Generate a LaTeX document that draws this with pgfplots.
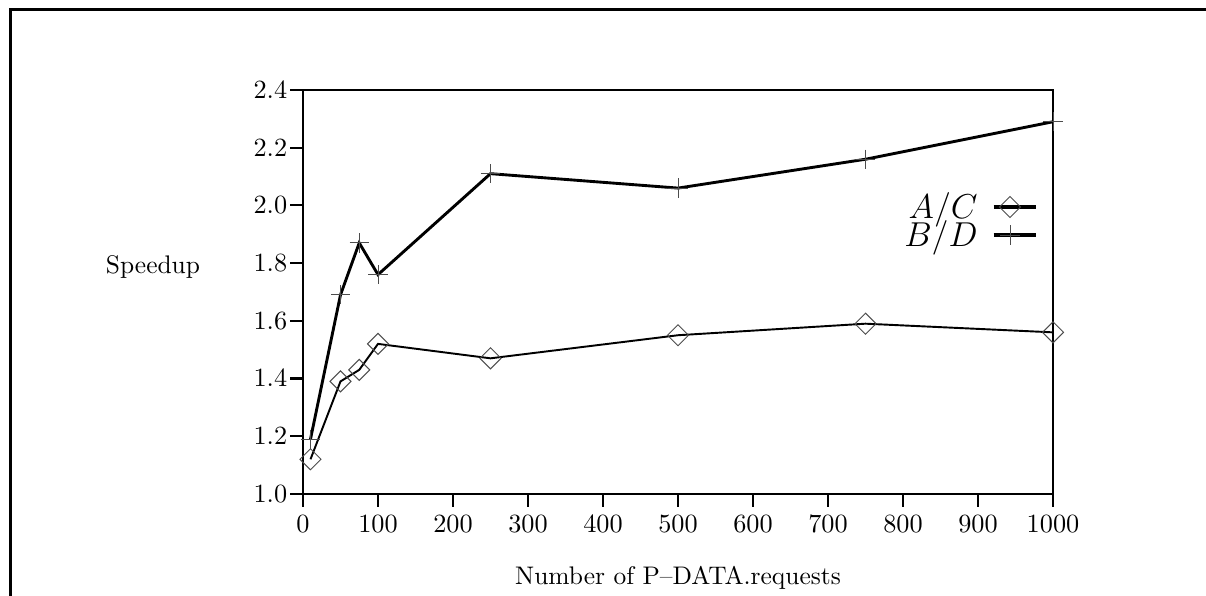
\documentclass[border=0pt]{standalone}
\usepackage{pgfplots}
\pgfplotsset{compat=1.18}
\begin{document}
\begin{tikzpicture}
\path[use as bounding box] (-126.25pt,-42.5pt) rectangle (376.25pt,205.8pt);
\draw[line width=1.25pt] (-121.7pt,-43pt) -- (-121.7pt,201.7pt) -- (377pt,201.7pt);
\begin{axis}[
  at={(0,0)}, anchor=south west,
  scale only axis, width=312.5pt, height=168.3pt,
  xmin=0, xmax=1000, ymin=1, ymax=2.4,
  xtick={0,100,...,1000}, ytick={1.0,1.2,...,2.4},
  tick label style={font=\fontsize{10.6}{12}\selectfont},
  label style={font=\fontsize{10.6}{12}\selectfont},
  xticklabel style={/pgf/number format/1000 sep={}},
  yticklabel style={/pgf/number format/fixed, /pgf/number format/fixed zerofill, /pgf/number format/precision=1, inner xsep=1pt},
  xtick pos=bottom, ytick pos=left, tick align=outside,
  major tick length=5.4pt,
  axis line style={line width=0.9pt}, tick style={line width=0.9pt, black},
  clip=false,
  xlabel={Number of P--DATA.requests},
  xlabel style={at={(axis description cs:0.5,-0.208)}, anchor=center},
  ylabel={Speedup},
  ylabel style={rotate=-90, at={(axis description cs:-0.2,0.562)}, anchor=center},
  legend plot pos=right,
  legend cell align=right,
  legend style={at={(axis description cs:0.98,0.76)}, anchor=north east, draw=none, fill=none, inner sep=0pt, row sep=-4.6pt, column sep=4pt, font=\fontsize{13.5}{13.5}\selectfont},
  legend image code/.code={\draw[mark repeat=2, mark phase=2, line width=1.3pt, #1] plot coordinates {(0cm,0cm) (0.24cm,0cm) (0.62cm,0cm)};},
]
\addplot[black, line width=0.8pt, mark=square, mark size=3.1pt, mark options={rotate=45, black!70, line width=0.4pt, solid}]
  coordinates {(10,1.12) (50,1.39) (75,1.43) (100,1.52) (250,1.47) (500,1.55) (750,1.59) (1000,1.56)};
\addlegendentry{$A/C$}
\addplot[black, line width=1.2pt, mark=+, mark size=4pt, mark options={black!70, line width=0.4pt, solid}]
  coordinates {(10,1.19) (50,1.69) (75,1.87) (100,1.76) (250,2.11) (500,2.06) (750,2.16) (1000,2.29)};
\addlegendentry{$B/D$}
\end{axis}
\end{tikzpicture}
\end{document}
